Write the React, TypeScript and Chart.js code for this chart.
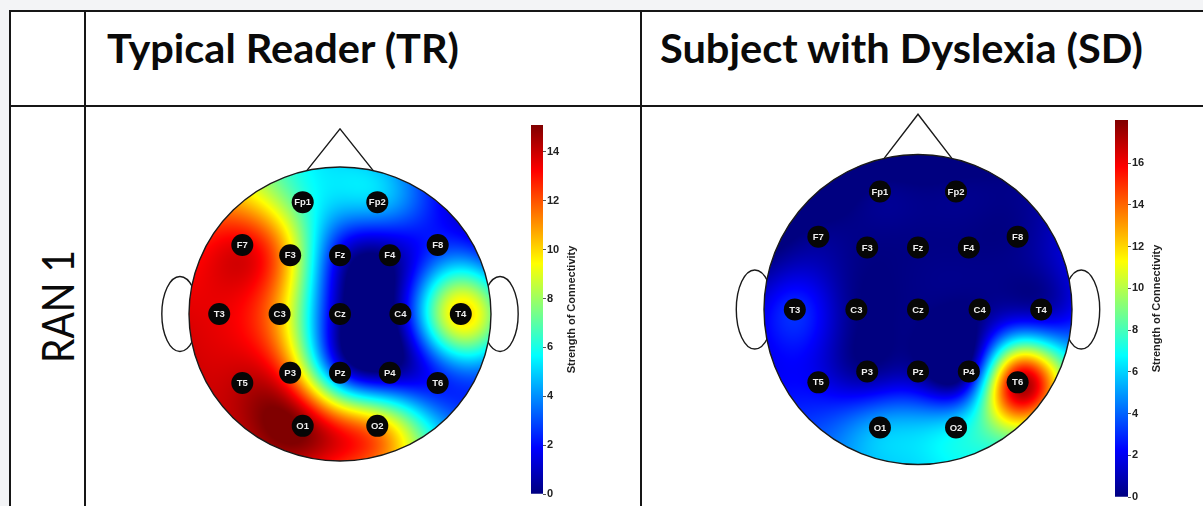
import React, { useEffect, useRef } from "react";
import { Chart, registerables } from "chart.js";
Chart.register(...registerables);

// ---------------- data ----------------
const electrodeNames = ["Fp1", "Fp2", "F7", "F3", "Fz", "F4", "F8", "T3", "C3", "Cz", "C4", "T4", "T5", "P3", "Pz", "P4", "T6", "O1", "O2"];
const electrodeX = [-0.247, 0.247, -0.647, -0.33, 0, 0.33, 0.647, -0.8, -0.4, 0, 0.4, 0.8, -0.647, -0.33, 0, 0.33, 0.647, -0.247, 0.247];
const electrodeY = [0.761, 0.761, 0.47, 0.4, 0.4, 0.4, 0.47, 0, 0, 0, 0, 0, -0.47, -0.4, -0.4, -0.4, -0.47, -0.761, -0.761];
const trValues = [6.5, 4.8, 13.5, 9.8, 1.5, 0.3, 2.5, 13.5, 10.5, 0.3, 0.8, 10.0, 14.2, 11.5, 2.5, 0.3, 2.2, 15.0, 10.8];
const sdValues = [0.2, 0.2, 0.3, 0.1, 0.1, 0.1, 0.2, 3.0, 0.1, 0.1, 0.1, 0.8, 2.0, 0.3, 0.3, 0.5, 17.0, 5.5, 6.5];
const trColorMax = 15.1;
const sdColorMax = 18.07;
const trTicks = [0, 2, 4, 6, 8, 10, 12, 14];
const sdTicks = [0, 2, 4, 6, 8, 10, 12, 14, 16];
const columnTitles = ["Typical Reader (TR)", "Subject with Dyslexia (SD)"];
const rowTitle = "RAN 1";
const colorbarTitle = "Strength of Connectivity";

// ---------------- helpers ----------------
function jet(t: number): number[] {
  const c = (v: number) => Math.max(0, Math.min(1, v));
  return [c(1.5 - Math.abs(4 * t - 3)), c(1.5 - Math.abs(4 * t - 2)), c(1.5 - Math.abs(4 * t - 1))].map((v) => Math.round(v * 255));
}
function jetCss(t: number) {
  const [r, g, b] = jet(t);
  return `rgb(${r},${g},${b})`;
}
function solve(A: number[][], b: number[]) {
  const n = b.length;
  const M = A.map((row, i) => [...row, b[i]]);
  for (let k = 0; k < n; k++) {
    let p = k;
    for (let i = k + 1; i < n; i++) if (Math.abs(M[i][k]) > Math.abs(M[p][k])) p = i;
    const tmp = M[k]; M[k] = M[p]; M[p] = tmp;
    for (let i = k + 1; i < n; i++) {
      const f = M[i][k] / M[k][k];
      for (let j = k; j <= n; j++) M[i][j] -= f * M[k][j];
    }
  }
  const x = new Array(n).fill(0);
  for (let i = n - 1; i >= 0; i--) {
    let s = M[i][n];
    for (let j = i + 1; j < n; j++) s -= M[i][j] * x[j];
    x[i] = s / M[i][i];
  }
  return x;
}
// Gaussian radial-basis interpolation (exact at the electrodes) on top of a damped least-squares planar trend
function makeInterpolator(xs: number[], ys: number[], vs: number[], eps: number, damp: number) {
  const n = xs.length;
  const rows = xs.map((x, i) => [1, x, ys[i]]);
  const AtA = [0, 1, 2].map((a) => [0, 1, 2].map((b) => rows.reduce((s, r) => s + r[a] * r[b], 0)));
  const Atv = [0, 1, 2].map((a) => rows.reduce((s, r, i) => s + r[a] * vs[i], 0));
  const [p0, p1, p2] = solve(AtA, Atv);
  const trend = (x: number, y: number) => p0 + damp * (p1 * x + p2 * y);
  const k = (d: number) => Math.exp(-(d * d) / (eps * eps));
  const G = xs.map((_, i) => xs.map((__, j) => k(Math.hypot(xs[i] - xs[j], ys[i] - ys[j]))));
  const w = solve(G, vs.map((v, i) => v - trend(xs[i], ys[i])));
  return (x: number, y: number) => {
    let s = trend(x, y);
    for (let i = 0; i < n; i++) s += w[i] * k(Math.hypot(x - xs[i], y - ys[i]));
    return s;
  };
}

const HEAD = { earX: 1.06, earRx: 0.12, earRy: 0.255, noseX: 0.22, noseBaseY: 0.975, noseTip: 1.26 };

function makeHeadPlugin(interp: (x: number, y: number) => number, max: number) {
  return {
    id: "headMap",
    beforeDatasetsDraw(chart: any) {
      const { ctx } = chart;
      const xs = chart.scales.x, ys = chart.scales.y;
      const cx = xs.getPixelForValue(0), cy = ys.getPixelForValue(0);
      const rx = xs.getPixelForValue(1) - cx, ry = cy - ys.getPixelForValue(1);
      ctx.save();
      ctx.strokeStyle = "#1a1a1a";
      ctx.lineWidth = 1.4;
      for (const s of [-1, 1]) {
        ctx.beginPath();
        ctx.ellipse(xs.getPixelForValue(s * HEAD.earX), cy, HEAD.earRx * rx, HEAD.earRy * ry, 0, 0, Math.PI * 2);
        ctx.stroke();
      }
      const x0 = Math.floor(cx - rx) - 1, y0 = Math.floor(cy - ry) - 1;
      const w = Math.ceil(2 * rx) + 3, h = Math.ceil(2 * ry) + 3;
      const off = document.createElement("canvas");
      off.width = w; off.height = h;
      const octx = off.getContext("2d")!;
      const img = octx.createImageData(w, h);
      for (let j = 0; j < h; j++) {
        const vy = ys.getValueForPixel(y0 + j + 0.5);
        for (let i = 0; i < w; i++) {
          const vx = xs.getValueForPixel(x0 + i + 0.5);
          if (vx * vx + vy * vy > 1.06) continue;
          const v = interp(vx, vy);
          const t = Math.max(0, Math.min(1, v / max));
          const [r, g, b] = jet(t);
          const q = (j * w + i) * 4;
          img.data[q] = r; img.data[q + 1] = g; img.data[q + 2] = b; img.data[q + 3] = 255;
        }
      }
      octx.putImageData(img, 0, 0);
      ctx.beginPath();
      ctx.ellipse(cx, cy, rx, ry, 0, 0, Math.PI * 2);
      ctx.fillStyle = "#fff";
      ctx.fill();
      ctx.save();
      ctx.clip();
      ctx.drawImage(off, x0, y0);
      ctx.restore();
      ctx.beginPath();
      ctx.ellipse(cx, cy, rx, ry, 0, 0, Math.PI * 2);
      ctx.stroke();
      ctx.beginPath();
      ctx.moveTo(xs.getPixelForValue(-HEAD.noseX), ys.getPixelForValue(HEAD.noseBaseY));
      ctx.lineTo(cx, ys.getPixelForValue(HEAD.noseTip));
      ctx.lineTo(xs.getPixelForValue(HEAD.noseX), ys.getPixelForValue(HEAD.noseBaseY));
      ctx.stroke();
      ctx.restore();
    },
    afterDatasetsDraw(chart: any) {
      const { ctx } = chart;
      const meta = chart.getDatasetMeta(0);
      ctx.save();
      ctx.font = 'bold 9.5px "Liberation Sans", Arial, sans-serif';
      ctx.fillStyle = "#eeeeee";
      ctx.textAlign = "center";
      ctx.textBaseline = "middle";
      meta.data.forEach((pt: any, i: number) => {
        ctx.fillText(electrodeNames[i], pt.x, pt.y + 0.5);
      });
      ctx.restore();
    },
  };
}

type Box = { left: number; top: number; width: number; height: number };

function HeadChart({ values, max, box, center, radius, eps }: { values: number[]; max: number; box: Box; center: { x: number; y: number }; radius: { x: number; y: number }; eps: number }) {
  const ref = useRef<HTMLCanvasElement>(null);
  useEffect(() => {
    const xMin = (box.left - center.x) / radius.x;
    const xMax = (box.left + box.width - center.x) / radius.x;
    const yMax = (center.y - box.top) / radius.y;
    const yMin = (center.y - box.top - box.height) / radius.y;
    const interp = makeInterpolator(electrodeX, electrodeY, values, eps, 0.75);
    const chart = new Chart(ref.current!, {
      type: "scatter",
      data: {
        datasets: [
          {
            data: electrodeX.map((x, i) => ({ x, y: electrodeY[i] })),
            pointRadius: 11,
            pointHoverRadius: 11,
            pointBackgroundColor: "#060606",
            pointBorderWidth: 0,
            clip: false,
          },
        ],
      },
      options: {
        responsive: false,
        animation: false,
        events: [],
        layout: { padding: 0, autoPadding: false },
        plugins: { legend: { display: false }, tooltip: { enabled: false } },
        scales: {
          x: { type: "linear", display: false, min: xMin, max: xMax },
          y: { type: "linear", display: false, min: yMin, max: yMax },
        },
      },
      plugins: [makeHeadPlugin(interp, max)],
    } as any);
    return () => chart.destroy();
  }, []);
  return <canvas ref={ref} width={box.width} height={box.height} style={{ position: "absolute", left: box.left, top: box.top }} />;
}

const cbTitlePlugin = {
  id: "cbTitle",
  afterDraw(chart: any, _a: any, opts: any) {
    const { ctx, chartArea } = chart;
    ctx.save();
    ctx.translate(chartArea.right + opts.offset, (chartArea.top + chartArea.bottom) / 2);
    ctx.rotate(-Math.PI / 2);
    ctx.font = 'bold 11px "Liberation Sans", Arial, sans-serif';
    ctx.fillStyle = "#222";
    ctx.textAlign = "center";
    ctx.textBaseline = "middle";
    ctx.fillText(opts.text, 0, 0);
    ctx.restore();
  },
};

function ColorBar({ max, ticks, left, top, barWidth, barTop, barBottom }: { max: number; ticks: number[]; left: number; top: number; barWidth: number; barTop: number; barBottom: number }) {
  const ref = useRef<HTMLCanvasElement>(null);
  const axisW = 46;
  const width = barWidth + axisW;
  const height = 506 - top;
  useEffect(() => {
    const chart = new Chart(ref.current!, {
      type: "bar",
      data: {
        labels: [""],
        datasets: [
          {
            data: [max],
            barPercentage: 1,
            categoryPercentage: 1,
            borderWidth: 0,
            backgroundColor: (c: any) => {
              const a = c.chart.chartArea;
              if (!a) return "#00f";
              const g = c.chart.ctx.createLinearGradient(0, a.bottom, 0, a.top);
              for (let k = 0; k <= 64; k++) g.addColorStop(k / 64, jetCss(k / 64));
              return g;
            },
          },
        ],
      },
      options: {
        responsive: false,
        animation: false,
        events: [],
        layout: { padding: { top: barTop - top, bottom: top + height - barBottom, left: 0, right: 0 } },
        plugins: { legend: { display: false }, tooltip: { enabled: false }, cbTitle: { text: colorbarTitle, offset: 29 } },
        scales: {
          x: { display: false },
          y: {
            position: "right",
            min: 0,
            max,
            afterBuildTicks: (s: any) => {
              s.ticks = ticks.map((v) => ({ value: v }));
            },
            afterFit: (s: any) => {
              s.width = axisW;
              s.paddingTop = 0;
              s.paddingBottom = 0;
            },
            ticks: { color: "#222", padding: 1, font: { family: '"Liberation Sans", Arial, sans-serif', size: 11, weight: "bold" } },
            grid: { drawOnChartArea: false, tickLength: 3, color: "#555" },
            border: { display: false },
          },
        },
      },
      plugins: [cbTitlePlugin],
    } as any);
    return () => chart.destroy();
  }, []);
  return <canvas ref={ref} width={width} height={height} style={{ position: "absolute", left, top }} />;
}

export default function App() {
  const line = "#161616";
  return (
    <div style={{ position: "absolute", left: 0, top: 0, width: 1203, height: 506, overflow: "hidden", background: "#f3f4f6" }}>
      <svg width={1203} height={506} style={{ position: "absolute", left: 0, top: 0 }}>
        <rect x={10} y={11} width={1193} height={495} fill="#ffffff" />
        <rect x={9} y={10} width={1194} height={2} fill={line} />
        <rect x={9} y={105} width={1194} height={2} fill={line} />
        <rect x={9} y={10} width={2} height={496} fill={line} />
        <rect x={84} y={10} width={2} height={496} fill={line} />
        <rect x={640} y={10} width={2} height={496} fill={line} />
        <text x={107} y={63} fontFamily="Lato, 'Open Sans', sans-serif" fontWeight={700} fontSize={41} textLength={352} lengthAdjust="spacingAndGlyphs" fill="#0a0a0a">
          {columnTitles[0]}
        </text>
        <text x={660} y={63} fontFamily="Lato, 'Open Sans', sans-serif" fontWeight={700} fontSize={41} textLength={483} lengthAdjust="spacingAndGlyphs" fill="#0a0a0a">
          {columnTitles[1]}
        </text>
        <text transform="translate(74,306.5) rotate(-90)" textAnchor="middle" fontFamily="Lato, 'Open Sans', sans-serif" fontWeight={400} fontSize={44} textLength={113} lengthAdjust="spacingAndGlyphs" fill="#0a0a0a">
          {rowTitle}
        </text>
      </svg>
      <HeadChart values={trValues} max={trColorMax} eps={0.36} box={{ left: 150, top: 115, width: 380, height: 360 }} center={{ x: 340, y: 314 }} radius={{ x: 151, y: 147 }} />
      <ColorBar max={trColorMax} ticks={trTicks} left={531} top={116} barWidth={12} barTop={125} barBottom={494} />
      <HeadChart values={sdValues} max={sdColorMax} eps={0.29} box={{ left: 725, top: 110, width: 390, height: 370 }} center={{ x: 918, y: 309.5 }} radius={{ x: 154, y: 155 }} />
      <ColorBar max={sdColorMax} ticks={sdTicks} left={1115} top={111} barWidth={13} barTop={120} barBottom={497} />
    </div>
  );
}
